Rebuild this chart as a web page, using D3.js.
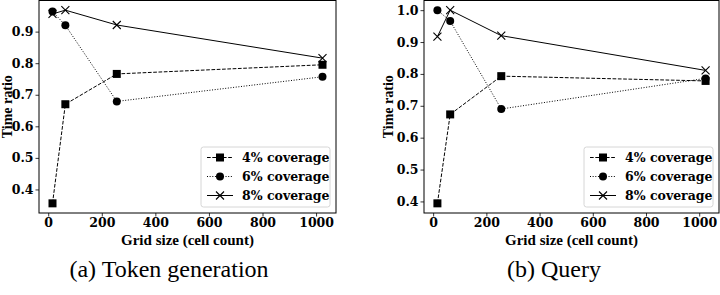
<!DOCTYPE html>
<html>
<head>
<meta charset="utf-8">
<script src="https://cdn.jsdelivr.net/npm/d3@7"></script>
<style>
  body { margin: 0; background: #fff; }
</style>
</head>
<body>
<div id="chart"></div>
<script>
// Data
var gridSizes = [16, 64, 256, 1024];
var seriesNames = ["4% coverage", "6% coverage", "8% coverage"];

var tokenCov4 = [0.356, 0.670, 0.766, 0.795];
var tokenCov6 = [0.964, 0.920, 0.679, 0.757];
var tokenCov8 = [0.956, 0.968, 0.921, 0.816];

var queryCov4 = [0.394, 0.673, 0.793, 0.778];
var queryCov6 = [1.000, 0.966, 0.690, 0.786];
var queryCov8 = [0.917, 1.000, 0.920, 0.811];

var xTicks = [0, 200, 400, 600, 800, 1000];
var tokenYTicks = [0.4, 0.5, 0.6, 0.7, 0.8, 0.9];
var queryYTicks = [0.4, 0.5, 0.6, 0.7, 0.8, 0.9, 1.0];

var captions = ["(a) Token generation", "(b) Query"];

// series styles: dash pattern + marker type
var dashes = ["3.7,1.6", "1,1.65", null];
var markers = ["square", "circle", "x"];

var tickFont = "'DejaVu Serif', serif";
var labFont = "'Liberation Serif', 'Times New Roman', serif";

var svg = d3.select("#chart").append("svg")
    .attr("width", 720)
    .attr("height", 295);

var panels = [
  {left: 39, right: 336, top: 0.5, bottom: 213, series: [tokenCov4, tokenCov6, tokenCov8], yTicks: tokenYTicks, yLabelX: 7, legX: 201, caption: captions[0], capX: 169},
  {left: 424, right: 719, top: 0.5, bottom: 213, series: [queryCov4, queryCov6, queryCov8], yTicks: queryYTicks, yLabelX: 388, legX: 584, caption: captions[1], capX: 554}
];

// matplotlib-like 5% margins
function padded(lo, hi) {
  var m = (hi - lo) * 0.05;
  return [lo - m, hi + m];
}

panels.forEach(function(p) {
  var allY = d3.merge(p.series);
  var x = d3.scaleLinear().domain(padded(d3.min(gridSizes), d3.max(gridSizes))).range([p.left, p.right]);
  var y = d3.scaleLinear().domain(padded(d3.min(allY), d3.max(allY))).range([p.bottom, p.top]);

  var g = svg.append("g");

  // axes
  var xAxis = g.append("g")
      .attr("transform", "translate(0," + p.bottom + ")")
      .call(d3.axisBottom(x).tickValues(xTicks).tickSize(3.5).tickPadding(2).tickFormat(d3.format("d")));
  var yAxis = g.append("g")
      .attr("transform", "translate(" + p.left + ",0)")
      .call(d3.axisLeft(y).tickValues(p.yTicks).tickSize(3.5).tickPadding(2).tickFormat(d3.format(".1f")));
  [xAxis, yAxis].forEach(function(a) {
    a.attr("font-family", null).attr("font-size", null);
    a.select(".domain").remove();
    a.selectAll(".tick line").attr("stroke", "#000").attr("stroke-width", 0.8);
    a.selectAll(".tick text")
      .attr("fill", "#000")
      .style("font-family", tickFont)
      .style("font-weight", "bold")
      .style("font-size", "12.5px");
  });

  // frame
  g.append("rect")
      .attr("x", p.left).attr("y", p.top)
      .attr("width", p.right - p.left).attr("height", p.bottom - p.top)
      .attr("fill", "none").attr("stroke", "#000").attr("stroke-width", 1);

  // lines
  var line = d3.line()
      .x(function(d, i) { return x(gridSizes[i]); })
      .y(function(d) { return y(d); });

  function drawMarker(sel, type, cx, cy, s) {
    if (type === "square") {
      sel.append("rect").attr("x", cx - s / 2).attr("y", cy - s / 2)
        .attr("width", s).attr("height", s).attr("fill", "#000");
    } else if (type === "circle") {
      sel.append("circle").attr("cx", cx).attr("cy", cy).attr("r", s / 2).attr("fill", "#000");
    } else {
      var h = s / 2;
      sel.append("path")
        .attr("d", "M" + (cx - h) + "," + (cy - h) + "L" + (cx + h) + "," + (cy + h) +
                   "M" + (cx - h) + "," + (cy + h) + "L" + (cx + h) + "," + (cy - h))
        .attr("stroke", "#000").attr("stroke-width", 1.1).attr("fill", "none");
    }
  }

  p.series.forEach(function(vals, k) {
    g.append("path")
      .datum(vals)
      .attr("d", line)
      .attr("fill", "none")
      .attr("stroke", "#000")
      .attr("stroke-width", 1)
      .attr("stroke-dasharray", dashes[k]);
    var mg = g.append("g");
    vals.forEach(function(v, i) {
      drawMarker(mg, markers[k], x(gridSizes[i]), y(v), 8);
    });
  });

  // legend
  var leg = g.append("g");
  leg.append("rect")
    .attr("x", p.legX).attr("y", 147)
    .attr("width", 129).attr("height", 60)
    .attr("rx", 2.5)
    .attr("fill", "#fff").attr("fill-opacity", 0.8)
    .attr("stroke", "#ccc").attr("stroke-width", 0.8);
  seriesNames.forEach(function(name, k) {
    var ly = 157.5 + k * 19;
    leg.append("line")
      .attr("x1", p.legX + 6).attr("x2", p.legX + 32)
      .attr("y1", ly).attr("y2", ly)
      .attr("stroke", "#000").attr("stroke-width", 1)
      .attr("stroke-dasharray", dashes[k]);
    drawMarker(leg, markers[k], p.legX + 19, ly, 8);
    leg.append("text")
      .attr("x", p.legX + 41).attr("y", ly)
      .attr("dy", "0.35em")
      .style("font-family", tickFont)
      .style("font-weight", "bold")
      .style("font-size", "12.5px")
      .text(name);
  });

  // axis labels
  g.append("text")
    .attr("text-anchor", "middle")
    .attr("x", (p.left + p.right) / 2)
    .attr("y", 245)
    .style("font-family", labFont)
    .style("font-weight", "bold")
    .style("font-size", "15px")
    .text("Grid size (cell count)");
  g.append("text")
    .attr("text-anchor", "middle")
    .attr("transform", "translate(" + p.yLabelX + "," + ((p.top + p.bottom) / 2) + ") rotate(-90)")
    .attr("dy", "0.35em")
    .style("font-family", labFont)
    .style("font-weight", "bold")
    .style("font-size", "14px")
    .text("Time ratio");

  // caption
  g.append("text")
    .attr("text-anchor", "middle")
    .attr("x", p.capX)
    .attr("y", 277)
    .style("font-family", labFont)
    .style("font-size", "24px")
    .text(p.caption);
});
</script>
</body>
</html>
